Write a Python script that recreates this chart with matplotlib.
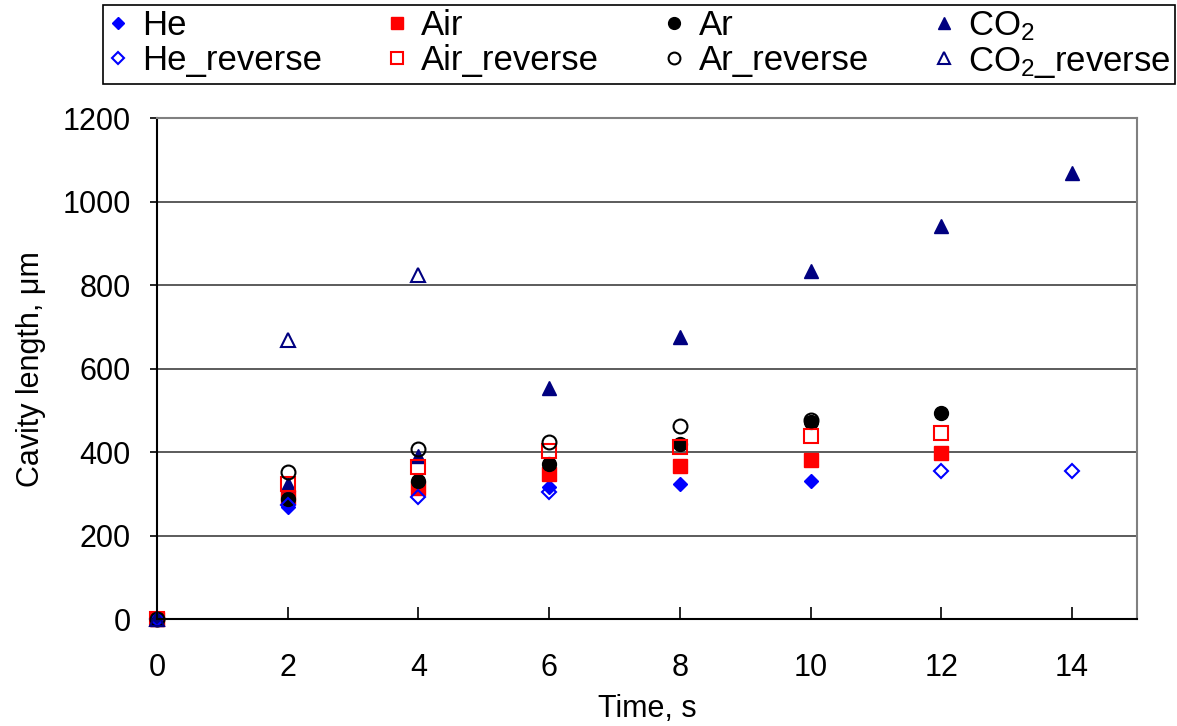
import matplotlib
matplotlib.use("Agg")
import matplotlib.pyplot as plt

plt.rcParams['font.family'] = ['Liberation Sans', 'DejaVu Sans']
plt.rcParams['mathtext.default'] = 'regular'

he_t = [0, 2, 6, 8, 10]
he_L = [0, 268, 318, 324, 332]
he_rev_t = [0, 2, 4, 6, 12, 14]
he_rev_L = [0, 274, 292, 304, 355, 355]

air_t = [0, 2, 4, 6, 8, 10, 12]
air_L = [0, 293, 315, 347, 368, 382, 398]
air_rev_t = [0, 2, 4, 6, 8, 10, 12]
air_rev_L = [0, 324, 364, 404, 412, 438, 447]

ar_t = [0, 2, 4, 6, 8, 10, 12]
ar_L = [0, 288, 332, 372, 419, 472, 494]
ar_rev_t = [0, 2, 4, 6, 8, 10]
ar_rev_L = [0, 352, 408, 424, 464, 478]

co2_t = [0, 2, 4, 6, 8, 10, 12, 14]
co2_L = [0, 325, 392, 555, 676, 834, 942, 1069]
co2_rev_t = [0, 2, 4]
co2_rev_L = [0, 669, 825]

fig = plt.figure(figsize=(11.77, 7.26), dpi=100)
ax = fig.add_axes([0.1334, 0.147, 0.8329, 0.690])

# gefuellte Marker
h_he, = ax.plot(he_t, he_L, 'D', color='#0000FF', ms=7, ls='none', label='He', clip_on=False)
h_air, = ax.plot(air_t, air_L, 's', color='#FF0000', ms=10, ls='none', label='Air', clip_on=False)
h_ar, = ax.plot(ar_t, ar_L, 'o', color='black', ms=10, ls='none', label='Ar', clip_on=False)
h_co2, = ax.plot(co2_t, co2_L, '^', color='#000080', ms=10, ls='none', label='CO$_2$', clip_on=False)
# offene Marker
h_her, = ax.plot(he_rev_t, he_rev_L, 'D', mec='#0000FF', mfc='none', mew=1.5, ms=7, ls='none',
                 label='He_reverse', clip_on=False)
h_airr, = ax.plot(air_rev_t, air_rev_L, 's', mec='#FF0000', mfc='none', mew=1.5, ms=10, ls='none',
                  label='Air_reverse', clip_on=False)
h_arr, = ax.plot(ar_rev_t, ar_rev_L, 'o', mec='black', mfc='none', mew=1.5, ms=10, ls='none',
                 label='Ar_reverse', clip_on=False)
h_co2r, = ax.plot(co2_rev_t, co2_rev_L, '^', mec='#000080', mfc='none', mew=1.5, ms=10, ls='none',
                  label='CO$_2$_reverse', clip_on=False)

ax.set_xlim(0, 15)
ax.set_ylim(0, 1200)
ax.set_xticks(range(0, 15, 2))
ax.set_yticks(range(0, 1201, 200))
ax.yaxis.grid(True, color='#404040', lw=1.2)
ax.set_axisbelow(True)

ax.tick_params(axis='x', direction='in', length=9, width=1.2, labelsize=22, pad=24)
ax.tick_params(axis='y', direction='out', length=5, width=1.2, labelsize=22, pad=14)
for s in ['left', 'bottom']:
    ax.spines[s].set_linewidth(1.5)
for s in ['top', 'right']:
    ax.spines[s].set_color('#808080')
    ax.spines[s].set_linewidth(1.5)

ax.set_xlabel('Time, s', fontsize=22, labelpad=8)
ax.set_ylabel('Cavity length, μm', fontsize=22, labelpad=12)

# Legende zeilenweise wie im Original (matplotlib fuellt spaltenweise)
handles = [h_he, h_her, h_air, h_airr, h_ar, h_arr, h_co2, h_co2r]
labels = [h.get_label() for h in handles]
leg = fig.legend(handles, labels, ncol=4, loc='upper left',
                 bbox_to_anchor=(0.0875, 0.8788, 0.9108, 0.1143), mode='expand',
                 borderaxespad=0, fontsize=25, markerscale=0.85, handlelength=0.6,
                 handletextpad=0.4, borderpad=0.12, labelspacing=0.05, fancybox=False,
                 edgecolor='black', framealpha=1)
leg.get_frame().set_linewidth(1.2)

fig.savefig('out.png', dpi=100)
